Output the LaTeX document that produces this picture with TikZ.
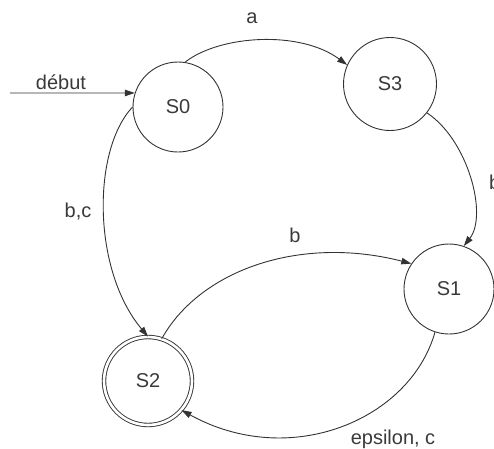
\documentclass[tikz,border=0pt]{standalone}
\usepackage{fontspec}
\setmainfont{Liberation Sans}
\usetikzlibrary{arrows.meta}
\definecolor{ink}{HTML}{333333}
\definecolor{txt}{HTML}{3A3A3A}
\tikzset{
  state/.style={circle, draw=ink, line width=0.9pt, minimum size=#1, inner sep=0pt,
                text=txt, font=\fontsize{20}{24}\selectfont},
  accept/.style={state=#1, double, double distance=2.6pt},
  trans/.style={draw=ink, line width=0.9pt, -{Triangle[length=10pt,width=6.5pt]}},
  lbl/.style={text=txt, font=\fontsize{20}{24}\selectfont, inner sep=0pt}
}
\begin{document}
\begin{tikzpicture}[x=1pt, y=-1pt]
  \useasboundingbox (0,0) rectangle (494,448);
  \clip (0,0) rectangle (494,448);

  % states
  \node[state=90pt]  (S0) at (178,107) {S0};
  \node[state=93pt]  (S3) at (390,84)  {S3};
  \node[state=90pt]  (S1) at (449,289) {S1};
  \node[accept=88pt] (S2) at (148,381) {S2};

  % initial arrow
  \coordinate (init) at (10,93);
  \draw[trans] (init) -- (S0.162);
  \node[lbl] (ldebut) at (61,82) {début};

  % transitions
  \draw[trans] (S0.81) .. controls (220,35) and (300,30) .. (S3.156);
  \node[lbl] (la) at (252,18) {a};

  \draw[trans] (S3.-38) .. controls (468,140) and (488,215) .. (S1.71);
  \node[lbl, anchor=west] (lb1) at (489,182) {b};

  \draw[trans] (S0.180) .. controls (92,150) and (92,270) .. (S2.90);
  \node[lbl] (lbc) at (78,212) {b,c};

  \draw[trans] (S2.72) .. controls (200,270) and (300,235) .. (S1.146);
  \node[lbl] (lb2) at (295,235) {b};

  \draw[trans] (S1.252) .. controls (410,420) and (290,470) .. (S2.-41);
  \node[lbl] (leps) at (393,439) {epsilon, c};
\end{tikzpicture}
\end{document}
